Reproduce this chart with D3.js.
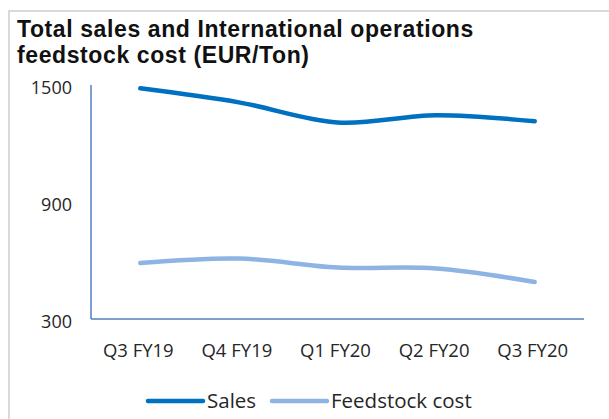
<!DOCTYPE html>
<html>
<head>
<meta charset="utf-8">
<script src="https://cdn.jsdelivr.net/npm/d3@7"></script>
<style>
  body { margin: 0; background: #fff; }
  text { font-family: "Open Sans", sans-serif; fill: #262626; }
  text.title { font-family: "Liberation Sans", Arial, sans-serif; font-weight: bold; fill: #111; letter-spacing: 0.6px; }
</style>
</head>
<body>
<div id="chart"></div>
<script>
var quarters = ["Q3 FY19", "Q4 FY19", "Q1 FY20", "Q2 FY20", "Q3 FY20"];
var sales = [1483, 1411, 1308, 1345, 1314];
var feedstock = [587, 610, 564, 559, 490];
var yTicks = [300, 900, 1500];
var titleLines = ["Total sales and International operations", "feedstock cost (EUR/Ton)"];

var width = 609;
var height = 419;

var series = [
  { name: "Sales", values: sales, color: "#0070c0" },
  { name: "Feedstock cost", values: feedstock, color: "#8eb4e3" }
];

var svg = d3.select("#chart").append("svg")
  .attr("width", width)
  .attr("height", height);

/* frame */
svg.append("path")
  .attr("d", "M9,419 V11 H609")
  .attr("fill", "none")
  .attr("stroke", "#d9d9d9")
  .attr("stroke-width", 2);

/* title */
svg.append("g")
  .selectAll("text")
  .data(titleLines).enter()
  .append("text")
  .attr("class", "title")
  .attr("x", 17)
  .attr("y", (d, i) => 37 + i * 26)
  .attr("font-size", "23px")
  .text(d => d);

/* scales */
var x = d3.scaleBand()
  .domain(quarters)
  .range([91, 584]);

var y = d3.scaleLinear()
  .domain([300, 1500])
  .range([319, 85]);

/* axes */
svg.append("line")
  .attr("x1", 91).attr("x2", 91)
  .attr("y1", y(1500)).attr("y2", y(300))
  .attr("stroke", "#4f81bd").attr("stroke-width", 1.5);

svg.append("line")
  .attr("x1", 91).attr("x2", 584)
  .attr("y1", y(300)).attr("y2", y(300))
  .attr("stroke", "#4f81bd").attr("stroke-width", 1.5);

svg.append("g")
  .selectAll("text")
  .data(yTicks).enter()
  .append("text")
  .attr("x", 72)
  .attr("y", d => y(d) + 9)
  .attr("text-anchor", "end")
  .attr("font-size", "18px")
  .text(d => d);

svg.append("g")
  .selectAll("text")
  .data(quarters).enter()
  .append("text")
  .attr("x", d => x(d) + x.bandwidth() / 2 - 2)
  .attr("y", 357)
  .attr("text-anchor", "middle")
  .attr("font-size", "18.5px")
  .text(d => d);

/* lines */
var line = d3.line()
  .x((d, i) => x(quarters[i]) + x.bandwidth() / 2)
  .y(d => y(d))
  .curve(d3.curveCatmullRom.alpha(0.5));

svg.append("g")
  .selectAll("path")
  .data(series).enter()
  .append("path")
  .attr("d", d => line(d.values))
  .attr("fill", "none")
  .attr("stroke", d => d.color)
  .attr("stroke-width", 4.5)
  .attr("stroke-linecap", "round");

/* legend */
var legendX = [148, 272];
var legend = svg.append("g")
  .selectAll("g")
  .data(series).enter()
  .append("g")
  .attr("transform", (d, i) => `translate(${legendX[i]}, 401)`);

legend.append("line")
  .attr("x1", 0).attr("x2", 55)
  .attr("stroke", d => d.color)
  .attr("stroke-width", 4.5)
  .attr("stroke-linecap", "round");

legend.append("text")
  .attr("x", 59)
  .attr("y", 7)
  .attr("font-size", "20.5px")
  .text(d => d.name);
</script>
</body>
</html>
